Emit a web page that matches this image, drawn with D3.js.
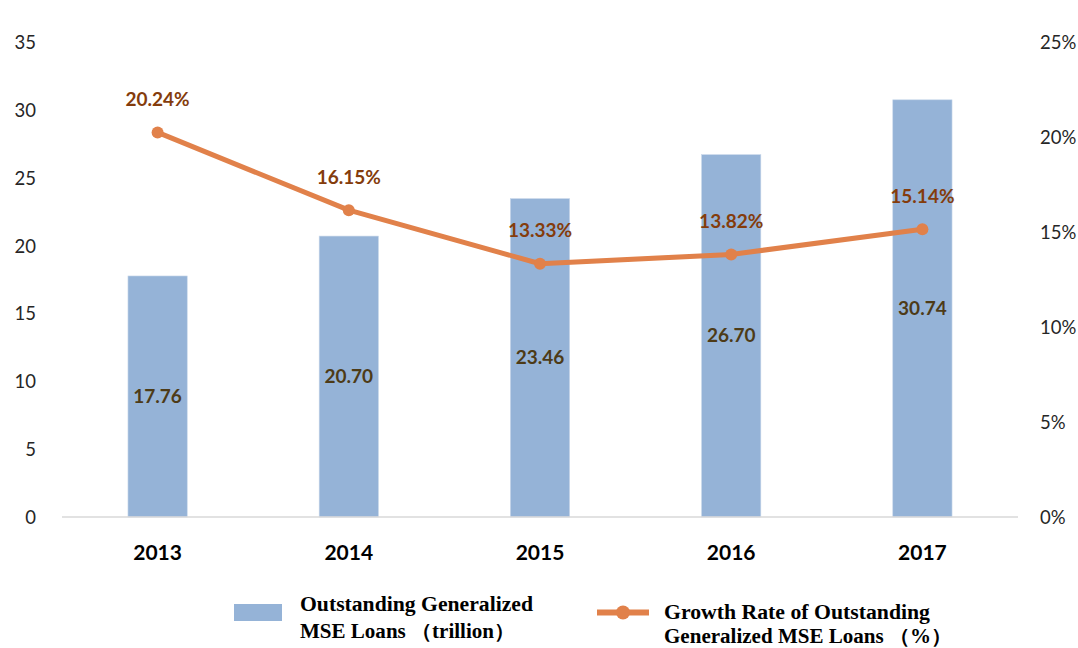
<!DOCTYPE html>
<html><head><meta charset="utf-8">
<script src="https://cdn.jsdelivr.net/npm/d3@7"></script>
<style>body{margin:0;background:#fff}svg{display:block}</style>
</head><body>
<svg id="c" width="1078" height="648"></svg>
<script>
const years = ["2013","2014","2015","2016","2017"];
const loans = [17.76, 20.70, 23.46, 26.70, 30.74];
const growth = [20.24, 16.15, 13.33, 13.82, 15.14];
const leftTicks = [0,5,10,15,20,25,30,35];
const rightTicks = [0,5,10,15,20,25];
const legendBar = ["Outstanding Generalized", "MSE Loans \uFF08trillion\uFF09"];
const legendLine = ["Growth Rate of Outstanding", "Generalized  MSE Loans \uFF08%\uFF09"];

const svg = d3.select("#c");
const x = d3.scaleBand().domain(years).range([62, 1018]).padding(0);
const yL = d3.scaleLinear().domain([0,35]).range([517, 42]);
const yR = d3.scaleLinear().domain([0,25]).range([517, 42]);
const barW = x.bandwidth()*0.31;
const sans = "Lato, 'Open Sans', sans-serif";

// left axis
const la = svg.append("g").attr("transform","translate(36,0)")
  .call(d3.axisLeft(yL).tickValues(leftTicks).tickSize(0).tickPadding(0));
la.select(".domain").remove();
la.selectAll("text").attr("font-family",sans).attr("font-size",18.5).attr("fill","#262626").attr("dy","0.35em");

// right axis
const ra = svg.append("g").attr("transform","translate(1040,0)")
  .call(d3.axisRight(yR).tickValues(rightTicks).tickSize(0).tickPadding(0).tickFormat(d=>d+"%"));
ra.select(".domain").remove();
ra.selectAll("text").attr("font-family",sans).attr("font-size",18.5).attr("fill","#262626").attr("dy","0.35em");

// bars
svg.append("g").selectAll("rect").data(loans).join("rect")
  .attr("x",(d,i)=>x(years[i])+x.bandwidth()/2-barW/2)
  .attr("width",barW)
  .attr("y",d=>yL(d)).attr("height",d=>yL(0)-yL(d))
  .attr("fill","#95B3D7").attr("stroke","#c9d8ea").attr("stroke-width",0.6);

// baseline
svg.append("line").attr("x1",62).attr("x2",1018).attr("y1",yL(0)).attr("y2",yL(0))
  .attr("stroke","#d9d9d9").attr("stroke-width",1.5);

// bar labels
svg.append("g").selectAll("text").data(loans).join("text")
  .attr("x",(d,i)=>x(years[i])+x.bandwidth()/2)
  .attr("y",d=>(yL(d)+yL(0))/2).attr("dy","0.35em")
  .attr("text-anchor","middle").attr("font-family",sans).attr("font-weight","bold")
  .attr("font-size",19).attr("fill","#4d3b17").text(d=>d.toFixed(2));

// line
const line = d3.line().x((d,i)=>x(years[i])+x.bandwidth()/2).y(d=>yR(d));
svg.append("path").datum(growth).attr("d",line).attr("fill","none")
  .attr("stroke","#E1814A").attr("stroke-width",5).attr("stroke-linejoin","round");
svg.append("g").selectAll("circle").data(growth).join("circle")
  .attr("cx",(d,i)=>x(years[i])+x.bandwidth()/2).attr("cy",d=>yR(d)).attr("r",6)
  .attr("fill","#E1814A");
svg.append("g").selectAll("text").data(growth).join("text")
  .attr("x",(d,i)=>x(years[i])+x.bandwidth()/2)
  .attr("y",d=>yR(d)-33).attr("dy","0.35em")
  .attr("text-anchor","middle").attr("font-family",sans).attr("font-weight","bold")
  .attr("font-size",19).attr("fill","#843C0C").text(d=>d.toFixed(2)+"%");

// x labels
svg.append("g").selectAll("text").data(years).join("text")
  .attr("x",d=>x(d)+x.bandwidth()/2).attr("y",553).attr("dy","0.35em")
  .attr("text-anchor","middle").attr("font-family",sans).attr("font-weight","bold")
  .attr("font-size",21).attr("fill","#000").text(d=>d);

// legend
const serif = "'Liberation Serif', 'Times New Roman', serif";
svg.append("rect").attr("x",234).attr("y",604).attr("width",48).attr("height",17).attr("fill","#95B3D7");
const lbW = [233,215];
const lbY = [611,638];
legendBar.forEach((t,i)=>{
  svg.append("text").attr("x",300).attr("y",lbY[i]).attr("font-family",serif).attr("font-weight","bold")
    .attr("font-size",20).attr("fill","#000").attr("textLength",lbW[i]).attr("lengthAdjust","spacingAndGlyphs").text(t);
});
svg.append("line").attr("x1",597).attr("x2",649).attr("y1",612.5).attr("y2",612.5).attr("stroke","#E1814A").attr("stroke-width",6);
svg.append("circle").attr("cx",623).attr("cy",612.5).attr("r",7).attr("fill","#E1814A");
const llW = [266,288];
const llY = [619,643];
legendLine.forEach((t,i)=>{
  svg.append("text").attr("x",664).attr("y",llY[i]).attr("font-family",serif).attr("font-weight","bold")
    .attr("font-size",20).attr("fill","#000").attr("textLength",llW[i]).attr("lengthAdjust","spacingAndGlyphs").text(t);
});
</script>
</body></html>
